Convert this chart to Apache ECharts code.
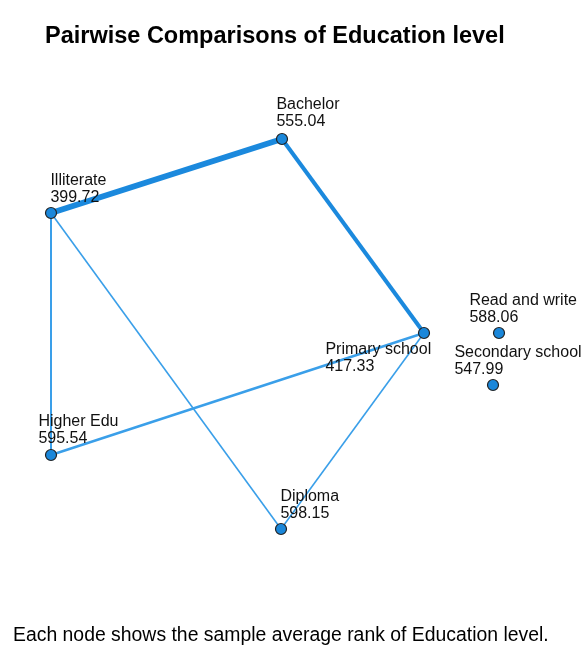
<!DOCTYPE html>
<html>
<head>
<meta charset="utf-8">
<script src="https://cdn.jsdelivr.net/npm/echarts@6/dist/echarts.min.js"></script>
<style>
  html, body { margin: 0; padding: 0; background: #fff; }
  #chart { width: 587px; height: 648px; }
</style>
</head>
<body>
<div id="chart"></div>
<script>
// Education levels and their sample average ranks
const levels = ['Bachelor', 'Illiterate', 'Primary school', 'Read and write', 'Secondary school', 'Higher Edu', 'Diploma'];
const avgRanks = ['555.04', '399.72', '417.33', '588.06', '547.99', '595.54', '598.15'];

// Network layout coordinates of each node (x, y)
const nodeX = [282, 51, 424, 499, 493, 51, 281];
const nodeY = [139, 213, 333, 333, 385, 455, 529];

// Pairwise comparison links and their relative strength
const linkSource = ['Illiterate', 'Bachelor', 'Primary school', 'Illiterate', 'Illiterate', 'Primary school'];
const linkTarget = ['Bachelor', 'Primary school', 'Higher Edu', 'Higher Edu', 'Diploma', 'Diploma'];
const linkWeight = [6, 4, 2.4, 2, 1.6, 1.6];

// Label placement relative to each node: [dx of left edge, dy of first line centre]
const labelOffset = {
  'Bachelor': [-5, -34],
  'Illiterate': [0, -32],
  'Primary school': [-98, 17],
  'Read and write': [-29, -32],
  'Secondary school': [-38, -32],
  'Higher Edu': [-12, -33],
  'Diploma': [0, -32]
};

const R = 5.5;
const LINE_H = 17;
const FONT = '"Liberation Sans", Arial, sans-serif';

const nodes = levels.map((name, i) => {
  const off = labelOffset[name];
  return {
    name: name,
    value: [nodeX[i], nodeY[i]],
    label: {
      position: [off[0] + R, off[1] - LINE_H / 2 + R],
      formatter: name + '\n' + avgRanks[i]
    }
  };
});

const links = linkSource.map((s, i) => ({
  source: s,
  target: linkTarget[i],
  lineStyle: {
    width: linkWeight[i],
    color: linkWeight[i] >= 4 ? '#1b89dd' : '#3a9fe9'
  }
}));

const chart = echarts.init(document.getElementById('chart'), null, { renderer: 'canvas' });
chart.setOption({
  animation: false,
  backgroundColor: '#ffffff',
  title: [{
    text: 'Pairwise Comparisons of Education level',
    left: 45,
    top: 25,
    padding: 0,
    textStyle: { fontFamily: FONT, fontWeight: 'bold', fontSize: 23.5, color: '#000' }
  }, {
    text: 'Each node shows the sample average rank of Education level.',
    left: 13,
    top: 626,
    padding: 0,
    textStyle: { fontFamily: FONT, fontWeight: 'normal', fontSize: 19.4, color: '#000' }
  }],
  grid: { left: 0, right: 0, top: 0, bottom: 0 },
  xAxis: { type: 'value', min: 0, max: 587, show: false },
  yAxis: { type: 'value', min: 0, max: 648, inverse: true, show: false },
  series: [{
    type: 'graph',
    coordinateSystem: 'cartesian2d',
    layout: 'none',
    symbol: 'circle',
    symbolSize: 11,
    z: 2,
    itemStyle: { color: '#1a87da', borderColor: '#222', borderWidth: 1.2 },
    label: {
      show: true,
      align: 'left',
      verticalAlign: 'top',
      fontFamily: FONT,
      fontSize: 16,
      lineHeight: LINE_H,
      color: '#111'
    },
    lineStyle: { opacity: 1, curveness: 0 },
    emphasis: { disabled: true },
    data: nodes,
    links: links
  }]
});
</script>
</body>
</html>
